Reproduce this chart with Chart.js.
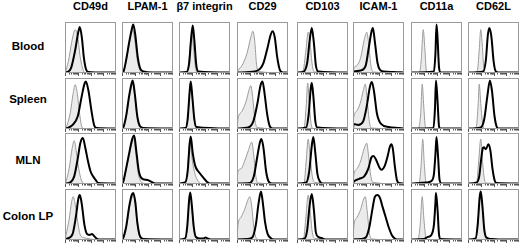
<!DOCTYPE html>
<html>
<head>
<meta charset="utf-8">
<script src="https://cdn.jsdelivr.net/npm/chart.js@4.4.1/dist/chart.umd.min.js"></script>
<style>
  html, body { margin: 0; padding: 0; background: #fff; }
  #wrap { position: relative; width: 520px; height: 244px; overflow: hidden; font-family: 'Liberation Sans', Arial, sans-serif; }
  .lbl { position: absolute; font-weight: bold; font-size: 11px; line-height: 11px; color: #000; white-space: nowrap; }
  .head { transform: translateX(-50%); }
  .row { transform: translate(-50%, -50%); font-size: 11.5px; }
  canvas { position: absolute; }
</style>
</head>
<body>
<div id="wrap"></div>
<script>
// column / row labels
const markers = ['CD49d', 'LPAM-1', 'β7 integrin', 'CD29', 'CD103', 'ICAM-1', 'CD11a', 'CD62L'];
const tissues = ['Blood', 'Spleen', 'MLN', 'Colon LP'];

// histograms: [x %, y %] pairs, one list per marker
// Iso = grey filled control, Stain = black line
const bloodIso = [
  [[2,5],[8,30],[13,60],[20,85],[25,70],[30,30],[36,5],[40,0]],
  [[3,3],[8,22],[14,55],[19,80],[21,85],[25,65],[30,25],[35,6],[42,1]],
  [[15,2],[19,20],[23,65],[25,80],[28,55],[32,12],[36,2]],
  [[2,5],[10,15],[20,40],[27,70],[31,82],[35,60],[38,20],[42,3]],
  [[12,5],[17,40],[22,80],[26,55],[30,15],[34,2]],
  [[2,10],[8,15],[15,30],[22,65],[27,80],[31,55],[35,15],[40,2]],
  [[17,2],[20,25],[24,85],[27,50],[30,5],[33,0]],
  [[18,3],[22,45],[25,85],[28,55],[31,10],[35,1]]
];
const bloodStain = [
  [[5,2],[12,10],[20,45],[26,80],[29,90],[33,70],[37,30],[41,8],[46,2],[60,1]],
  [[3,3],[8,25],[14,60],[19,85],[22,95],[26,75],[31,30],[36,8],[42,3],[60,1]],
  [[15,2],[20,20],[24,70],[27,93],[30,65],[34,15],[38,3]],
  [[35,3],[45,8],[52,20],[60,50],[66,75],[70,82],[74,70],[79,30],[84,6],[90,1]],
  [[12,2],[20,20],[25,65],[29,88],[33,60],[37,15],[42,3]],
  [[2,3],[15,5],[25,15],[31,50],[36,80],[39,88],[43,60],[48,20],[53,6],[60,3],[80,2]],
  [[45,3],[48,40],[50,95],[52,70],[55,10],[58,1]],
  [[30,3],[35,25],[39,75],[42,88],[46,70],[50,25],[54,4],[60,1]]
];
const spleenIso = [
  [[3,5],[10,30],[16,70],[20,87],[24,70],[28,35],[32,8],[36,1]],
  [[2,2],[8,22],[14,60],[19,85],[21,90],[25,65],[30,22],[35,5],[42,1]],
  [[13,2],[17,18],[21,70],[23,88],[26,60],[30,18],[34,3]],
  [[2,20],[10,35],[18,55],[24,78],[27,85],[31,60],[35,20],[39,3]],
  [[14,3],[18,45],[21,90],[24,50],[28,8],[32,1]],
  [[1,20],[7,35],[14,50],[20,75],[24,88],[28,55],[32,15],[36,2]],
  [[15,2],[19,30],[22,88],[25,45],[28,5],[31,0]],
  [[16,3],[20,50],[22,88],[25,50],[29,8],[33,1]]
];
const spleenStain = [
  [[5,2],[15,8],[25,25],[32,60],[38,88],[41,93],[46,75],[52,35],[57,8],[62,2]],
  [[2,2],[8,25],[14,65],[19,90],[21,95],[25,70],[30,25],[35,6],[42,2]],
  [[13,2],[17,20],[21,75],[23,93],[26,65],[30,20],[34,4]],
  [[22,3],[32,15],[40,50],[46,85],[50,93],[54,70],[59,30],[64,6],[70,1]],
  [[18,3],[23,30],[27,80],[29,90],[32,65],[36,15],[40,3]],
  [[1,10],[10,8],[20,15],[27,45],[33,82],[37,92],[41,75],[47,30],[55,10],[70,4],[90,2]],
  [[44,2],[47,40],[49,95],[52,55],[55,5],[58,1]],
  [[25,3],[32,20],[38,65],[43,95],[47,75],[52,25],[56,5],[60,1]]
];
const mlnIso = [
  [[2,5],[8,30],[14,70],[18,85],[22,65],[27,30],[32,8],[38,1]],
  [[2,2],[8,28],[14,55],[20,82],[23,88],[27,60],[32,20],[38,4],[44,1]],
  [[12,2],[16,22],[20,75],[22,85],[25,55],[30,25],[35,10],[40,3],[44,0]],
  [[2,25],[8,30],[15,45],[22,65],[29,82],[33,55],[37,15],[41,2]],
  [[14,3],[18,45],[22,88],[26,50],[30,15],[35,3]],
  [[2,20],[8,30],[15,45],[22,70],[27,80],[31,50],[35,15],[39,3]],
  [[16,2],[20,40],[23,88],[26,40],[29,5],[32,0]],
  [[17,3],[21,45],[25,88],[28,50],[32,10],[36,2]]
];
const mlnStain = [
  [[8,2],[18,15],[25,50],[30,80],[35,90],[40,70],[45,45],[50,25],[55,15],[60,8],[65,2]],
  [[2,3],[8,30],[14,60],[20,88],[24,95],[28,65],[33,25],[40,10],[50,8],[58,4],[65,1]],
  [[12,3],[17,25],[21,80],[23,93],[27,60],[32,35],[40,22],[48,12],[55,4],[60,1]],
  [[25,2],[33,15],[40,55],[45,82],[48,88],[52,70],[57,25],[62,5],[68,1]],
  [[18,3],[24,25],[29,75],[32,92],[36,60],[40,20],[45,5],[50,1]],
  [[2,5],[12,10],[22,15],[30,30],[36,52],[40,55],[45,48],[52,32],[56,28],[62,35],[68,55],[72,72],[75,78],[78,70],[82,35],[86,8],[90,2]],
  [[30,3],[40,6],[45,20],[48,60],[50,92],[53,55],[56,8],[60,1]],
  [[17,3],[22,15],[26,50],[29,70],[31,72],[35,68],[40,78],[44,65],[48,30],[52,8],[56,2]]
];
const colonIso = [
  [[2,10],[8,40],[13,75],[16,85],[20,70],[25,35],[30,10],[36,5],[45,3],[55,1]],
  [[2,2],[8,22],[14,60],[19,82],[22,88],[26,70],[30,30],[35,6],[42,1]],
  [[12,2],[16,22],[20,75],[22,88],[25,65],[29,22],[33,5],[38,1]],
  [[2,30],[8,45],[15,60],[20,75],[25,85],[29,65],[33,25],[37,5],[42,1]],
  [[13,3],[17,40],[22,88],[26,55],[30,15],[35,3]],
  [[2,30],[8,45],[15,60],[20,78],[24,85],[28,55],[32,15],[36,2]],
  [[14,2],[18,30],[22,85],[25,45],[29,5],[32,0]],
  [[15,3],[19,28],[23,80],[25,90],[28,65],[32,18],[36,4],[45,1]]
];
const colonStain = [
  [[5,3],[15,12],[22,50],[26,80],[29,88],[33,70],[38,30],[43,12],[48,10],[53,12],[57,8],[62,3],[68,1]],
  [[2,3],[8,25],[14,65],[19,88],[22,92],[26,75],[30,35],[35,8],[42,2]],
  [[12,3],[16,25],[20,80],[22,93],[25,70],[29,25],[33,6],[40,3],[48,3],[52,5],[56,3],[62,1]],
  [[20,2],[30,5],[37,30],[42,70],[47,95],[51,70],[55,35],[60,12],[66,4],[72,1]],
  [[15,3],[20,20],[25,70],[29,90],[33,60],[37,15],[42,6],[48,4],[55,1]],
  [[15,2],[25,5],[32,25],[38,60],[43,85],[48,88],[53,82],[58,65],[64,45],[70,25],[76,10],[82,3],[90,1]],
  [[25,2],[33,6],[40,10],[45,30],[48,75],[49,92],[52,60],[55,10],[58,2]],
  [[15,3],[19,30],[23,85],[25,95],[28,70],[32,20],[36,5],[45,2],[60,1]]
];

const isoRows = [bloodIso, spleenIso, mlnIso, colonIso];
const stainRows = [bloodStain, spleenStain, mlnStain, colonStain];

// panel layout (px)
const colLeft = [65, 122, 179, 237, 297, 353, 411, 468];
const rowTop = [22, 78, 133, 189];
const rowLabelY = [46, 99, 160, 216];
const panelW = 51, panelH = 51;

const wrap = document.getElementById('wrap');

markers.forEach((m, c) => {
  const d = document.createElement('div');
  d.className = 'lbl head';
  d.textContent = m;
  d.style.left = (colLeft[c] + panelW / 2) + 'px';
  d.style.top = '1px';
  wrap.appendChild(d);
});
tissues.forEach((t, r) => {
  const d = document.createElement('div');
  d.className = 'lbl row';
  d.textContent = t;
  d.style.left = '28px';
  d.style.top = rowLabelY[r] + 'px';
  wrap.appendChild(d);
});

function pts(list, tail) {
  const out = list.map(p => ({ x: p[0], y: p[1] }));
  if (out[0].x > 0) out.unshift({ x: 0, y: tail });
  if (out[out.length - 1].x < 100) out.push({ x: 100, y: tail });
  return out;
}

// frame + log decade ticks under the box
const framePlugin = {
  id: 'frame',
  afterDatasetsDraw(chart) {
    const { ctx, chartArea: a } = chart;
    const xs = chart.scales.x;
    ctx.save();
    ctx.strokeStyle = '#9a9a9a';
    ctx.lineWidth = 1;
    ctx.strokeRect(a.left + 0.5, a.top + 0.5, a.right - a.left - 1, a.bottom - a.top - 1);
    ctx.strokeStyle = '#555';
    ctx.beginPath();
    for (let dec = 0; dec < 4; dec++) {
      for (let k = 1; k < 10; k++) {
        const v = dec * 25 + 25 * Math.log10(k);
        const px = Math.round(xs.getPixelForValue(v)) + 0.5;
        ctx.moveTo(px, a.bottom);
        ctx.lineTo(px, a.bottom + (k === 1 ? 3 : 1.5));
      }
    }
    ctx.stroke();
    ctx.restore();
  }
};

for (let r = 0; r < tissues.length; r++) {
  for (let c = 0; c < markers.length; c++) {
    const cv = document.createElement('canvas');
    cv.width = panelW + 2;
    cv.height = panelH + 6;
    cv.style.left = (colLeft[c] - 1) + 'px';
    cv.style.top = (rowTop[r] - 1) + 'px';
    wrap.appendChild(cv);
    new Chart(cv, {
      type: 'line',
      data: {
        datasets: [
          {
            data: pts(isoRows[r][c], 0),
            borderColor: '#9c9c9c',
            borderWidth: 1,
            backgroundColor: '#ebebeb',
            fill: 'origin',
            pointRadius: 0,
            cubicInterpolationMode: 'monotone',
            order: 2
          },
          {
            data: pts(stainRows[r][c], 1),
            borderColor: '#000',
            borderWidth: 2,
            fill: false,
            pointRadius: 0,
            cubicInterpolationMode: 'monotone',
            order: 1
          }
        ]
      },
      options: {
        responsive: false,
        animation: false,
        devicePixelRatio: 1,
        layout: { padding: { left: 1, right: 1, top: 1, bottom: 5 } },
        plugins: { legend: { display: false }, tooltip: { enabled: false } },
        scales: {
          x: { type: 'linear', min: 0, max: 100, display: false },
          y: { min: 0, max: 100, display: false }
        }
      },
      plugins: [framePlugin]
    });
  }
}
</script>
</body>
</html>
